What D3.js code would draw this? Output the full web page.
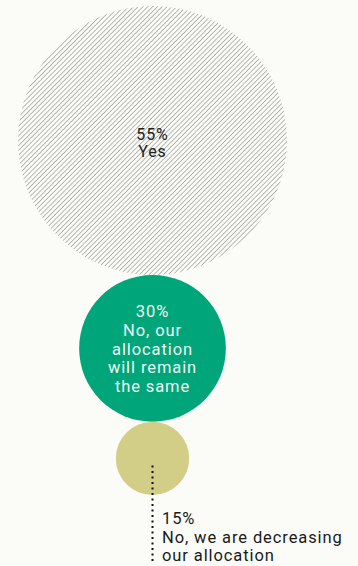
<!DOCTYPE html>
<html>
<head>
<meta charset="utf-8">
<script src="https://cdn.jsdelivr.net/npm/d3@7"></script>
<style>
  html, body { margin: 0; padding: 0; background: #fbfcf7; }
  svg { display: block; }
  text { font-family: "Roboto", "Noto Sans", sans-serif; letter-spacing: 0.9px; }
</style>
</head>
<body>
<svg id="chart" width="358" height="566"></svg>
<script>
// Survey answers, stacked as touching bubbles
const categories = ["Yes", "No, our allocation will remain the same", "No, we are decreasing our allocation"];
const values = [55, 30, 15];
const labelLines = [
  ["55%", "Yes"],
  ["30%", "No, our", "allocation", "will remain", "the same"],
  ["15%", "No, we are decreasing", "our allocation"]
];
const fills = ["url(#hatch)", "#00a67a", "#d3ce87"];
const textColors = ["#222222", "#eef8f2", "#1a1a1a"];

const W = 358, H = 566;
const cx = 152.5, topY = 6;

const svg = d3.select("#chart");

// diagonal hatch for the largest bubble
const defs = svg.append("defs");
const pat = defs.append("pattern")
  .attr("id", "hatch")
  .attr("patternUnits", "userSpaceOnUse")
  .attr("width", 3.4).attr("height", 3.4)
  .attr("patternTransform", "rotate(45)");
pat.append("rect").attr("width", 3.4).attr("height", 3.4).attr("fill", "#fbfcf7");
pat.append("line")
  .attr("x1", 0).attr("y1", 0).attr("x2", 0).attr("y2", 3.4)
  .attr("stroke", "#adadaa").attr("stroke-width", 1.7);

// radius is linear in the share
const r = d3.scaleLinear().domain([0, 55]).range([0, 134.5]);

// stack bubbles vertically, each touching the previous one
let y = topY;
const nodes = values.map((v, i) => {
  const rad = r(v);
  const node = { i, v, rad, cy: y + rad };
  y += 2 * rad;
  return node;
});

svg.selectAll("circle.bubble")
  .data(nodes)
  .join("circle")
  .attr("class", "bubble")
  .attr("cx", cx)
  .attr("cy", d => d.cy)
  .attr("r", d => d.rad)
  .attr("fill", d => fills[d.i]);

// labels inside the first two bubbles
const inner = [
  { n: nodes[0], lh: 17.5, size: 16, start: nodes[0].cy - 1 },
  { n: nodes[1], lh: 18.6, size: 16.5, start: nodes[1].cy - 31 }
];
inner.forEach(o => {
  const lines = labelLines[o.n.i];
  const t = svg.append("text")
    .attr("text-anchor", "middle")
    .attr("fill", textColors[o.n.i])
    .attr("font-size", o.size);
  lines.forEach((s, k) => {
    t.append("tspan").attr("x", cx).attr("y", o.start + k * o.lh).text(s);
  });
});

// callout for the smallest bubble
const small = nodes[2];
svg.append("line")
  .attr("x1", cx).attr("x2", cx)
  .attr("y1", small.cy + 7).attr("y2", 561)
  .attr("stroke", "#111")
  .attr("stroke-width", 2)
  .attr("stroke-dasharray", "2,3.5");

const t3 = svg.append("text")
  .attr("fill", textColors[2])
  .attr("font-size", 16.5);
labelLines[2].forEach((s, k) => {
  t3.append("tspan").attr("x", 162).attr("y", 524 + k * 18.5).text(s);
});
</script>
</body>
</html>
